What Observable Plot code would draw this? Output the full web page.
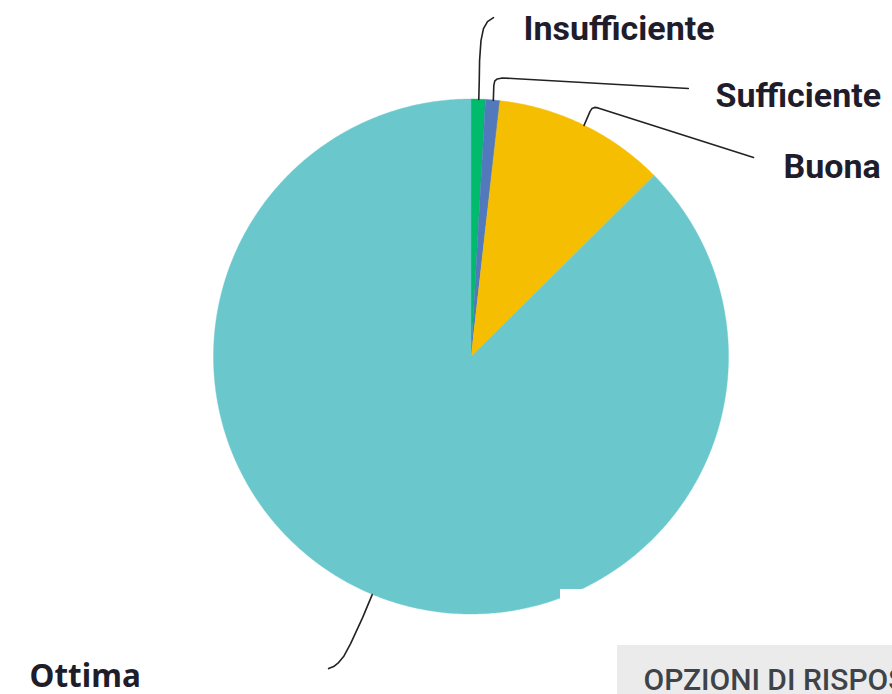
<!DOCTYPE html>
<html>
<head>
<meta charset="utf-8">
<script src="https://cdn.jsdelivr.net/npm/d3@7"></script>
<script src="https://cdn.jsdelivr.net/npm/@observablehq/plot@0.6"></script>
<style>
  html, body { margin: 0; padding: 0; background: #fff; overflow: hidden; }
  #chart svg { display: block; }
</style>
</head>
<body>
<div id="chart"></div>
<script>
// ---- data ----
const categories = ["Insufficiente", "Sufficiente", "Buona", "Ottima"];
const values = [0.9, 0.9, 10.8, 87.4];           // percent
const colors = ["#00bb6c", "#5179bb", "#f5be00", "#6ac8cd"];

// ---- layout (pixel space) ----
const W = 892, H = 694;
const cx = 471, cy = 356.5, R = 257.5;
// leader line bends, relative to the point on the arc at each slice's mid-angle
const leaderBends = [
  [[0.5, -20], [0.8, -39], [2.2, -59], [4.7, -71], [8.7, -78], [14.7, -82]],
  [[0.5, -15], [1.5, -19.5], [4, -21.5], [9, -22.5], [195, -12]],
  [[6, -14], [8, -17], [10.5, -18], [14, -17.5], [169.5, 32]],
  [[-9.6, 23], [-21.6, 49], [-28.6, 62], [-33.6, 68], [-38.6, 72], [-43.6, 74]]
];
const labelPos = [[523, 29], [715, 96], [783, 167], [29, 676]];

// ---- build slices ----
const total = d3.sum(values);
const pt = (a, r) => [cx + r * Math.sin(a), cy - r * Math.cos(a)];
let acc = 0;
const slices = categories.map((c, i) => {
  const a0 = acc / total * 2 * Math.PI;
  acc += values[i];
  const a1 = acc / total * 2 * Math.PI;
  return {cat: c, a0, a1, mid: (a0 + a1) / 2};
});
const wedgeRows = [];
for (const s of slices) {
  const n = Math.max(4, Math.ceil((s.a1 - s.a0) / (Math.PI / 360)));
  for (let k = 0; k <= n; k++) {
    const a = s.a0 + (s.a1 - s.a0) * k / n;
    const [x, y] = pt(a, R);
    wedgeRows.push({cat: s.cat, x1: x, y1: y, x2: cx, y2: cy});
  }
}

// leader lines
const leaderRows = [];
slices.forEach((s, i) => {
  const [x0, y0] = pt(s.mid, R);
  leaderRows.push({cat: s.cat, x: x0, y: y0});
  for (const [dx, dy] of leaderBends[i]) leaderRows.push({cat: s.cat, x: x0 + dx, y: y0 + dy});
});

const topLabels = categories.slice(0, 3).map((c, i) => ({label: c, x: labelPos[i][0], y: labelPos[i][1]}));
const bottomLabel = [{label: categories[3], x: labelPos[3][0], y: labelPos[3][1]}];

const chart = Plot.plot({
  width: W, height: H, margin: 0,
  x: {domain: [0, W], range: [0, W], axis: null},
  y: {domain: [0, H], range: [0, H], axis: null},
  color: {domain: categories, range: colors},
  style: {background: "#fff", overflow: "hidden"},
  marks: [
    Plot.area(wedgeRows, {x1: "x1", y1: "y1", x2: "x2", y2: "y2", fill: "cat", z: "cat", stroke: "cat", strokeWidth: 0.4}),
    Plot.line(leaderRows, {x: "x", y: "y", z: "cat", curve: "linear", stroke: "#222", strokeWidth: 1.6, strokeLinejoin: "round"}),
    Plot.text(topLabels, {x: "x", y: "y", text: "label", textAnchor: "start",
      fontFamily: "Roboto", fontWeight: 700, fontSize: 34, fill: "#1f1d2b"}),
    Plot.text(bottomLabel, {x: "x", y: "y", text: "label", textAnchor: "start",
      fontFamily: "Noto Sans", fontWeight: 700, fontSize: 31.5, fill: "#1f1d2b"}),
    // page fragments visible in the screenshot
    Plot.rect([0], {x1: () => 560, x2: () => W, y1: () => 589, y2: () => H, fill: "#fff"}),
    Plot.rect([0], {x1: () => 617, x2: () => W + 20, y1: () => 645, y2: () => H + 10, fill: "#ebebeb"}),
    Plot.text(["OPZIONI DI RISPOSTA"], {x: () => 643, y: () => 680, text: d => d, textAnchor: "start",
      fontFamily: "Roboto", fontWeight: 500, fontSize: 30, fill: "#3d4349"})
  ]
});
document.getElementById("chart").append(chart);
</script>
</body>
</html>
